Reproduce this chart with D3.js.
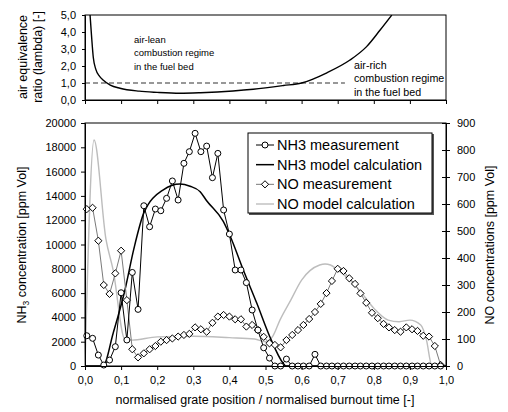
<!DOCTYPE html>
<html>
<head>
<meta charset="utf-8">
<script src="https://cdn.jsdelivr.net/npm/d3@7"></script>
<style>
  body { margin: 0; background: #fff; }
  svg { font-family: "Liberation Sans", Arial, sans-serif; }
</style>
</head>
<body>
<div id="chart"></div>
<script>
// ---------------- DATA ----------------
// measurement grid (normalised grate position)
const gridX = [0.005, 0.021, 0.037, 0.052, 0.068, 0.084, 0.100, 0.116, 0.131, 0.147, 0.163, 0.179, 0.195, 0.210, 0.226, 0.242,
    0.258, 0.274, 0.289, 0.305, 0.321, 0.337, 0.353, 0.368, 0.384, 0.400, 0.416, 0.432, 0.447, 0.463, 0.479, 0.495,
    0.511, 0.526, 0.542, 0.558, 0.574, 0.590, 0.605, 0.621, 0.637, 0.653, 0.669, 0.684, 0.700, 0.716, 0.732, 0.748,
    0.763, 0.779, 0.795, 0.811, 0.827, 0.842, 0.858, 0.874, 0.890, 0.906, 0.921, 0.937, 0.953, 0.969, 0.985]

const nh3Meas = [2490, 2280, 900, 80, 490, 1590, 6030, 2140, 7700, 4660, 13190, 11460, 12920, 12780, 13800, 15230,
    13660, 16680, 17640, 19150, 17640, 18100, 15500, 17500, 12840, 10860, 7900, 7900, 6860, 4610, 2960, 1500,
    650, 0, 0, 570, 0, 0, 0, 0, 960, 0, 0, 0, 0, 0, 0, 0,
    0, 0, 0, 0, 0, 0, 0, 0, 0, 0, 0, 0, 0, 0, 0]

const noMeas = [581, 586, 464, 300, 267, 343, 427, 244, 62, 32, 47, 62, 74, 90, 96, 102,
    109, 115, 119, 143, 136, 127, 160, 183, 189, 183, 173, 173, 146, 152, 133, 108,
    84, 78, 69, 96, 115, 133, 152, 174, 200, 230, 270, 315, 360, 352, 325, 304,
    269, 234, 197, 177, 156, 143, 133, 127, 143, 136, 130, 112, 109, 74, 4]

const nh3ModelX = [0, 0.05, 0.078, 0.111, 0.135, 0.163, 0.217, 0.263, 0.291, 0.319, 0.337, 0.383, 0.402, 0.4385, 0.476, 0.512, 0.549, 0.556, 1.0]
const nh3ModelY = [0, 0, 2700, 6300, 9600, 12600, 14500, 14980, 14800, 14350, 13600, 11900, 10700, 7900, 5160, 2410, 220, 0, 0]

const noModelX = [0, 0.025, 0.058, 0.078, 0.11, 0.13, 0.2, 0.3, 0.4, 0.47, 0.5, 0.52, 0.54, 0.57, 0.6, 0.65, 0.665, 0.68, 0.7, 0.76, 0.8, 0.84, 0.87, 0.9, 0.93, 0.946, 0.96, 0.97]
const noModelY = [0, 837, 470, 355, 100, 96, 108, 110, 105, 100, 90, 110, 170, 244, 318, 374, 378, 374, 356, 281, 214, 170, 164, 170, 152, 96, 4, 0]

const lambdaX = [0.014, 0.018, 0.023, 0.03, 0.04, 0.05, 0.07, 0.097, 0.15, 0.2, 0.263, 0.32, 0.41, 0.466, 0.55, 0.6, 0.67, 0.734, 0.78, 0.817, 0.85]
const lambdaY = [5.0, 3.8, 2.5, 1.8, 1.4, 1.18, 0.88, 0.69, 0.52, 0.45, 0.40, 0.43, 0.53, 0.63, 0.85, 1.0, 1.6, 2.35, 3.14, 4.1, 5.0]
const lambdaRefX = [0, 0.72]
const lambdaRefY = [1, 1]

const xTicks = [0, 0.1, 0.2, 0.3, 0.4, 0.5, 0.6, 0.7, 0.8, 0.9, 1.0]
const lambdaTicks = [0, 1, 2, 3, 4, 5]
const nh3Ticks = [0, 2000, 4000, 6000, 8000, 10000, 12000, 14000, 16000, 18000, 20000]
const noTicks = [0, 100, 200, 300, 400, 500, 600, 700, 800, 900]

const legendNames = ["NH3 measurement", "NH3 model calculation", "NO measurement", "NO model calculation"]

// ---------------- SETUP ----------------
const W = 508, H = 412
const svg = d3.select('#chart').append('svg')
    .attr('width', W)
    .attr('height', H)

const loc = d3.formatLocale({decimal: ",", thousands: "", grouping: [3], currency: ["", ""]})
const fmt1 = loc.format(".1f")

const x = d3.scaleLinear([0, 1], [85, 446])
const yLam = d3.scaleLinear([0, 5], [100, 15])
const yNh3 = d3.scaleLinear([0, 20000], [366, 123])
const yNo = d3.scaleLinear([0, 900], [366, 123])

function styleAxis(g, size) {
    g.select('.domain').attr('stroke', '#000')
    g.selectAll('.tick line').attr('stroke', '#000')
    g.selectAll('text').attr('fill', '#000').style('font-size', size + 'px')
        .style('font-family', '"Liberation Sans", Arial, sans-serif')
}

// clip paths
svg.append('clipPath').attr('id', 'clipTop')
    .append('rect').attr('x', 85).attr('y', 15).attr('width', 361).attr('height', 85)

//____________ TOP PANEL (lambda) ____________//
const topPanel = svg.append('g')

topPanel.append('rect')
    .attr('x', 85).attr('y', 15).attr('width', 361).attr('height', 85)
    .attr('fill', 'none').attr('stroke', '#000')

topPanel.append('path')
    .datum(lambdaRefX.map((d, i) => [d, lambdaRefY[i]]))
    .attr('d', d3.line().x(d => x(d[0])).y(d => yLam(d[1])))
    .attr('fill', 'none')
    .attr('stroke', '#777')
    .attr('stroke-width', 1.5)
    .attr('stroke-dasharray', '5,3')

topPanel.append('path')
    .datum(lambdaX.map((d, i) => [d, lambdaY[i]]))
    .attr('clip-path', 'url(#clipTop)')
    .attr('d', d3.line().x(d => x(d[0])).y(d => yLam(d[1])).curve(d3.curveMonotoneX))
    .attr('fill', 'none')
    .attr('stroke', '#000')
    .attr('stroke-width', 1.4)

topPanel.append('g')
    .attr('transform', 'translate(85,0)')
    .call(d3.axisLeft(yLam).tickValues(lambdaTicks).tickFormat(fmt1).tickSize(3).tickPadding(6))
    .call(g => styleAxis(g, 11))

topPanel.append('g')
    .attr('transform', 'translate(0,100)')
    .call(d3.axisBottom(x).tickValues(xTicks).tickFormat('').tickSize(4))
    .call(g => styleAxis(g, 11))

const leanText = topPanel.append('text').attr('x', 134).attr('y', 43).style('font-size', '9.5px')
leanText.selectAll('tspan').data(["air-lean", "combustion regime", "in the fuel bed"]).join('tspan')
    .attr('x', 134).attr('dy', (d, i) => i ? 13.3 : 0).text(d => d)

const richText = topPanel.append('text').attr('x', 354).attr('y', 69).style('font-size', '10.7px')
richText.selectAll('tspan').data(["air-rich", "combustion regime", "in the fuel bed"]).join('tspan')
    .attr('x', 354).attr('dy', (d, i) => i ? 13.3 : 0).text(d => d)

topPanel.append('text')
    .attr('transform', 'translate(27,57) rotate(-90)')
    .attr('text-anchor', 'middle')
    .style('font-size', '12.5px')
    .text('air equivalence')
topPanel.append('text')
    .attr('transform', 'translate(42,57) rotate(-90)')
    .attr('text-anchor', 'middle')
    .style('font-size', '12.5px')
    .text('ratio (lambda) [-]')

//____________ MAIN PANEL ____________//
const main = svg.append('g')

main.append('rect')
    .attr('x', 85).attr('y', 123).attr('width', 361).attr('height', 243)
    .attr('fill', 'none').attr('stroke', '#000')

// NO model
main.append('path')
    .datum(noModelX.map((d, i) => [d, noModelY[i]]))
    .attr('d', d3.line().x(d => x(d[0])).y(d => yNo(d[1])).curve(d3.curveMonotoneX))
    .attr('fill', 'none')
    .attr('stroke', '#bdbdbd')
    .attr('stroke-width', 1.4)

// NH3 model
main.append('path')
    .datum(nh3ModelX.map((d, i) => [d, nh3ModelY[i]]))
    .attr('d', d3.line().x(d => x(d[0])).y(d => yNh3(d[1])).curve(d3.curveMonotoneX))
    .attr('fill', 'none')
    .attr('stroke', '#000')
    .attr('stroke-width', 1.5)

// NO measurement
const noPts = gridX.map((d, i) => [d, noMeas[i]])
main.append('path')
    .datum(noPts)
    .attr('d', d3.line().x(d => x(d[0])).y(d => yNo(d[1])))
    .attr('fill', 'none')
    .attr('stroke', '#7a7a7a')
    .attr('stroke-width', 1)

// NH3 measurement
const nh3Pts = gridX.map((d, i) => [d, nh3Meas[i]])
main.append('path')
    .datum(nh3Pts)
    .attr('d', d3.line().x(d => x(d[0])).y(d => yNh3(d[1])))
    .attr('fill', 'none')
    .attr('stroke', '#000')
    .attr('stroke-width', 1)

const diamond = 'M0,-3.6L3.6,0L0,3.6L-3.6,0Z'

main.append('g').selectAll('path')
    .data(noPts)
    .join('path')
    .attr('transform', d => `translate(${x(d[0])},${yNo(d[1])})`)
    .attr('d', diamond)
    .attr('fill', '#fff')
    .attr('stroke', '#000')
    .attr('stroke-width', 1)

main.append('g').selectAll('circle')
    .data(nh3Pts)
    .join('circle')
    .attr('cx', d => x(d[0]))
    .attr('cy', d => yNh3(d[1]))
    .attr('r', 3)
    .attr('fill', '#fff')
    .attr('stroke', '#000')
    .attr('stroke-width', 1)

// axes
main.append('g')
    .attr('transform', 'translate(85,0)')
    .call(d3.axisLeft(yNh3).tickValues(nh3Ticks).tickFormat(d3.format('d')).tickSize(4).tickPadding(5))
    .call(g => styleAxis(g, 11))

main.append('g')
    .attr('transform', 'translate(0,366)')
    .call(d3.axisBottom(x).tickValues(xTicks).tickFormat(fmt1).tickSize(4).tickPadding(6))
    .call(g => styleAxis(g, 11))

main.append('g')
    .attr('transform', 'translate(446,0)')
    .call(d3.axisRight(yNo).tickValues(noTicks).tickFormat(d3.format('d')).tickSize(4).tickPadding(7))
    .call(g => styleAxis(g, 11))
    .call(g => g.selectAll('.tick line').attr('x1', -4))

// axis titles
const yTitle = main.append('text')
    .attr('transform', 'translate(26,245) rotate(-90)')
    .attr('text-anchor', 'middle')
    .style('font-size', '12.5px')
yTitle.append('tspan').text('NH')
yTitle.append('tspan').text('3').style('font-size', '8.5px').attr('dy', 3)
yTitle.append('tspan').text(' concentration [ppm Vol]').attr('dy', -3)

main.append('text')
    .attr('transform', 'translate(494,245) rotate(-90)')
    .attr('text-anchor', 'middle')
    .style('font-size', '12.5px')
    .text('NO concentrations [ppm Vol]')

main.append('text')
    .attr('x', 265).attr('y', 404)
    .attr('text-anchor', 'middle')
    .style('font-size', '12.5px')
    .text('normalised grate position / normalised burnout time [-]')

//____________ LEGEND ____________//
const lg = main.append('g')
lg.append('rect')
    .attr('x', 249).attr('y', 134).attr('width', 185).attr('height', 81)
    .attr('fill', '#555')
lg.append('rect')
    .attr('x', 248).attr('y', 133).attr('width', 184).attr('height', 80)
    .attr('fill', '#fff').attr('stroke', '#000')

const lgY = d3.scalePoint().domain(legendNames).range([145, 204])
const lgItem = lg.selectAll('g.item').data(legendNames).join('g')
    .attr('class', 'item')
    .attr('transform', d => `translate(0,${lgY(d)})`)

lgItem.append('line')
    .attr('x1', 256).attr('x2', 274)
    .attr('stroke', (d, i) => ['#000', '#000', '#7a7a7a', '#bdbdbd'][i])
    .attr('stroke-width', (d, i) => [1, 1.5, 1, 1.4][i])
lgItem.filter((d, i) => i === 0).append('circle')
    .attr('cx', 265).attr('r', 3).attr('fill', '#fff').attr('stroke', '#000')
lgItem.filter((d, i) => i === 2).append('path')
    .attr('transform', 'translate(265,0)')
    .attr('d', diamond).attr('fill', '#fff').attr('stroke', '#000')
lgItem.append('text')
    .attr('x', 277).attr('dy', '0.35em')
    .style('font-size', '14.5px')
    .text(d => d)
</script>
</body>
</html>
